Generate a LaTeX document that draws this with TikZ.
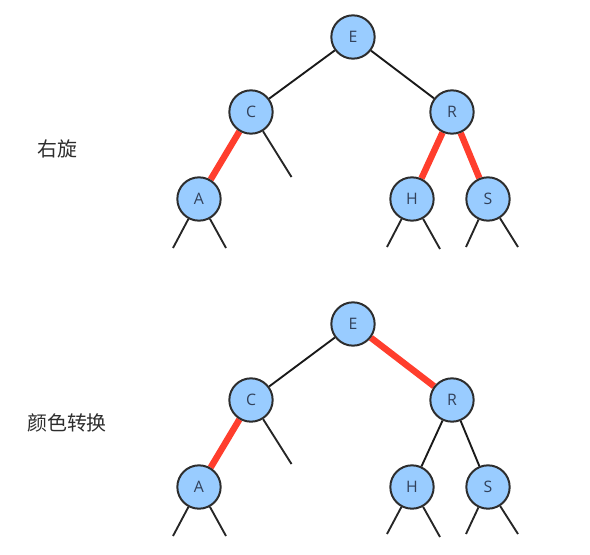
\documentclass[tikz,border=0pt]{standalone}
\usepackage{fontspec}
\setsansfont{Open Sans}
\newfontfamily\cjk{Noto Sans CJK SC}
\usetikzlibrary{backgrounds}
\definecolor{keyfill}{RGB}{153,204,255}
\definecolor{keyline}{RGB}{45,45,45}
\definecolor{keytext}{RGB}{50,65,90}
\definecolor{redlink}{RGB}{255,62,45}
\definecolor{labeltext}{RGB}{45,45,45}
\tikzset{
  key/.style={circle,draw=keyline,fill=keyfill,line width=1.7pt,minimum size=1.3cm,
              inner sep=0pt,text=keytext,font=\sffamily\fontsize{13.5}{15}\selectfont},
  blacklink/.style={draw=black!90,line width=1.6pt},
  redlinkline/.style={draw=redlink,line width=5.5pt},
  stub/.style={draw=black!85,line width=1.6pt},
  steplabel/.style={text=labeltext,font=\cjk\fontsize{17}{20}\selectfont},
}
\begin{document}
\begin{tikzpicture}[x=0.03cm,y=-0.03cm]
  \useasboundingbox (0,0) rectangle (590,554);
  % before: right rotation
  \node[key] (tE) at (353,37)  {E};
  \node[key] (tC) at (251,112) {C};
  \node[key] (tR) at (452,112) {R};
  \node[key] (tA) at (199,199) {A};
  \node[key] (tH) at (412,199) {H};
  \node[key] (tS) at (488,199) {S};
  \node[steplabel] (tL) at (57,149) {右旋};
  % after: colour flip
  \node[key] (bE) at (353,324) {E};
  \node[key] (bC) at (251,400) {C};
  \node[key] (bR) at (452,400) {R};
  \node[key] (bA) at (199,487) {A};
  \node[key] (bH) at (412,487) {H};
  \node[key] (bS) at (488,487) {S};
  \node[steplabel] (bL) at (67,423) {颜色转换};
  % free ends of the empty subtrees
  \foreach \n/\x/\y in {tCs/291.5/177,tAl/173/248,tAr/226/248,tHl/387/247,tHr/440/249,
                        tSl/466/247,tSr/518/247,bCs/291.5/464,bAl/173/536,bAr/226/536,
                        bHl/387/534,bHr/440/537,bSl/466/534,bSr/518/534}{
    \coordinate (\n) at (\x,\y);}
  \begin{scope}[on background layer]
    \draw[blacklink] (tE) -- (tC);
    \draw[blacklink] (tE) -- (tR);
    \draw[redlinkline] (tC) -- (tA);
    \draw[redlinkline] (tR) -- (tH);
    \draw[redlinkline] (tR) -- (tS);
    \draw[blacklink] (bE) -- (bC);
    \draw[redlinkline] (bE) -- (bR);
    \draw[redlinkline] (bC) -- (bA);
    \draw[blacklink] (bR) -- (bH);
    \draw[blacklink] (bR) -- (bS);
    \foreach \p in {t,b}{
      \draw[stub] (\p C) -- (\p Cs);
      \draw[stub] (\p A) -- (\p Al);
      \draw[stub] (\p A) -- (\p Ar);
      \draw[stub] (\p H) -- (\p Hl);
      \draw[stub] (\p H) -- (\p Hr);
      \draw[stub] (\p S) -- (\p Sl);
      \draw[stub] (\p S) -- (\p Sr);}
  \end{scope}
\end{tikzpicture}
\end{document}
